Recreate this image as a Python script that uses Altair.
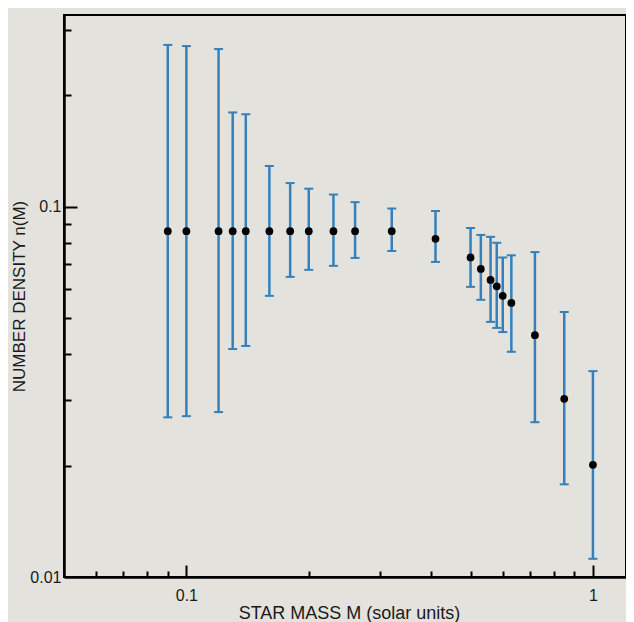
import altair as alt
import pandas as pd

# ---- data ----
mass = [0.09, 0.10, 0.12, 0.13, 0.14, 0.16, 0.18, 0.20, 0.23, 0.26, 0.32,
        0.41, 0.50, 0.53, 0.56, 0.58, 0.60, 0.63, 0.72, 0.85, 1.00]
density = [0.086, 0.086, 0.086, 0.086, 0.086, 0.086, 0.086, 0.086, 0.086, 0.086, 0.086,
           0.082, 0.073, 0.068, 0.0635, 0.061, 0.0575, 0.055, 0.045, 0.0303, 0.0201]
upper = [0.274, 0.272, 0.267, 0.180, 0.178, 0.129, 0.116, 0.112, 0.108, 0.103, 0.099,
         0.0975, 0.0877, 0.084, 0.083, 0.080, 0.073, 0.074, 0.0755, 0.052, 0.036]
lower = [0.027, 0.0272, 0.0279, 0.0413, 0.0421, 0.0575, 0.0647, 0.0676, 0.0693, 0.0728, 0.076,
         0.071, 0.0608, 0.0561, 0.0489, 0.0471, 0.0459, 0.0406, 0.0262, 0.0178, 0.0112]

x_label_values = [0.1, 1]
y_label_values = [0.01, 0.1]
x_minor = [0.06, 0.07, 0.08, 0.09, 0.2, 0.3, 0.4, 0.5, 0.6, 0.7, 0.8, 0.9]
x_major = [0.1, 1]
y_minor = [0.02, 0.03, 0.04, 0.05, 0.06, 0.07, 0.08, 0.09, 0.2, 0.3]
y_major = [0.1]

x_title = "STAR MASS M (solar units)"
y_title = "NUMBER DENSITY n(M)"

df = pd.DataFrame({"mass": mass, "density": density, "upper": upper, "lower": lower})

# ---- style ----
W, H = 562, 562
BG = "#e3e2dc"
BLUE = "#3580bb"
INK = "#1a1a1a"
FONT = "Liberation Sans"

xscale = alt.Scale(type="log", domain=[0.05, 1.206], nice=False)
yscale = alt.Scale(type="log", domain=[0.01, 0.33], nice=False)

main_x = alt.Axis(orient="bottom", values=x_label_values, format="~g", ticks=False, tickSize=0,
                  grid=False, domainColor="black", domainWidth=2.5,
                  labelFont=FONT, labelFontSize=16, labelColor=INK, labelBaseline="alphabetic",
                  labelPadding=23, labelFlush=False,
                  title=x_title, titleFont=FONT, titleFontSize=18, titleFontWeight="normal",
                  titleColor=INK, titleX=285, titleY=41, titleBaseline="alphabetic",
                  titleAlign="center")
main_y = alt.Axis(orient="left", values=y_label_values, format="~g", ticks=False, tickSize=0,
                  grid=False, domainColor="black", domainWidth=2.5,
                  labelFont=FONT, labelFontSize=16, labelColor=INK, labelPadding=3,
                  labelFlush=False,
                  title=y_title, titleFont=FONT, titleFontSize=17, titleFontWeight="normal",
                  titleColor=INK, titleX=-40, titleY=H / 2, titleAngle=270,
                  titleBaseline="alphabetic", titleAlign="center")

def tick_axis(orient, values, length):
    return alt.Axis(orient=orient, values=values, offset=-length, tickSize=length,
                    tickColor="black", tickWidth=2, labels=False, domain=False,
                    grid=False, title=None)

bars = alt.Chart(df).mark_rule(color=BLUE, strokeWidth=2.5).encode(
    x=alt.X("mass:Q", scale=xscale, axis=main_x),
    y=alt.Y("lower:Q", scale=yscale, axis=main_y),
    y2="upper:Q",
)
caps_top = alt.Chart(df).mark_tick(orient="horizontal", color=BLUE, size=9, thickness=2,
                                   opacity=1).encode(
    x=alt.X("mass:Q", scale=xscale, axis=tick_axis("bottom", x_minor, 6)),
    y=alt.Y("upper:Q", scale=yscale, axis=tick_axis("left", y_minor, 7)),
)
caps_bot = alt.Chart(df).mark_tick(orient="horizontal", color=BLUE, size=9, thickness=2,
                                   opacity=1).encode(
    x=alt.X("mass:Q", scale=xscale, axis=tick_axis("bottom", x_major, 12)),
    y=alt.Y("lower:Q", scale=yscale, axis=tick_axis("left", y_major, 13)),
)
points = alt.Chart(df).mark_circle(color="black", size=60, opacity=1).encode(
    x=alt.X("mass:Q", scale=xscale, axis=None),
    y=alt.Y("density:Q", scale=yscale, axis=None),
)

chart = (
    alt.layer(bars, caps_top, caps_bot, points)
    .resolve_axis(x="independent", y="independent")
    .properties(width=W, height=H, background=BG,
                padding={"left": 56, "top": 7, "right": 0, "bottom": 45},
                autosize=alt.AutoSizeParams(type="none"))
    .configure_view(stroke="black", strokeWidth=2, fill=BG)
)

chart.save("out.html", embed_options={"renderer": "svg", "actions": False})
